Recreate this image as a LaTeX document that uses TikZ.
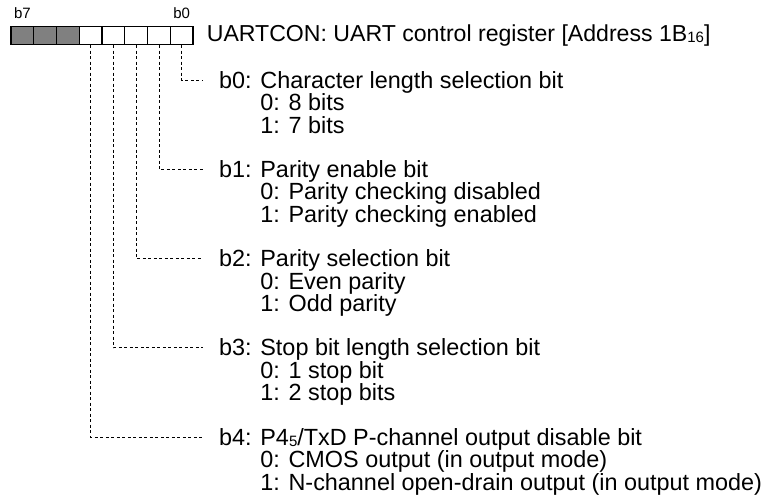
\documentclass[tikz,border=0pt]{standalone}
\usepackage{fontspec}
\setmainfont{Liberation Sans}
\usetikzlibrary{positioning}

\newcommand{\lowsub}[1]{\raisebox{-1.5pt}{\fontsize{15}{15}\selectfont #1}}

\begin{document}
\begin{tikzpicture}[x=1pt,y=-1pt,
    bitbox/.style={draw,line width=1.3pt,minimum width=22.75pt,minimum height=18pt,inner sep=0pt},
    bitlbl/.style={font=\fontsize{15}{15}\selectfont,inner sep=0pt},
    leader/.style={line width=0.6pt,dash pattern=on 3pt off 2.5pt},
    desc/.style={anchor=base west,inner sep=0pt,font=\fontsize{23.4}{24}\selectfont}]
        \useasboundingbox (0,0) rectangle (771,501);
        % register bits, b0 on the right
        \foreach \i/\f in {0/white,1/white,2/white,3/white,4/white,5/gray,6/gray,7/gray}
            \node[bitbox,fill=\f] (bit\i) at ({193-22.75*(\i+0.5)},35.5) {};
        \node[bitlbl,above=7pt of bit7] (lbl7) {b7};
        \node[bitlbl,above=7pt of bit0] (lbl0) {b0};
        \node[desc,anchor=west,right=13pt of bit0,font=\fontsize{23.1}{24}\selectfont] (title) {UARTCON: UART control register [Address 1B\lowsub{16}]};
        % leader ends
        \coordinate (tip0) at (203,80);
        \coordinate (tip1) at (203,169.25);
        \coordinate (tip2) at (203,258.5);
        \coordinate (tip3) at (203,347.75);
        \coordinate (tip4) at (203,437);
        \foreach \i in {0,...,4}
            \draw[leader] (bit\i.south) |- (tip\i);
        % b0
        \node[desc] (d0) at (219,88) {b0: Character length selection bit};
        \node[desc] (d0z) at (219,110.5) {\phantom{b0: }0: 8 bits};
        \node[desc] (d0o) at (219,133) {\phantom{b0: }1: 7 bits};
        % b1
        \node[desc] (d1) at (219,177.25) {b1: Parity enable bit};
        \node[desc] (d1z) at (219,199.75) {\phantom{b1: }0: Parity checking disabled};
        \node[desc] (d1o) at (219,222.25) {\phantom{b1: }1: Parity checking enabled};
        % b2
        \node[desc] (d2) at (219,266.5) {b2: Parity selection bit};
        \node[desc] (d2z) at (219,289) {\phantom{b2: }0: Even parity};
        \node[desc] (d2o) at (219,311.5) {\phantom{b2: }1: Odd parity};
        % b3
        \node[desc] (d3) at (219,355.75) {b3: Stop bit length selection bit};
        \node[desc] (d3z) at (219,378.25) {\phantom{b3: }0: 1 stop bit};
        \node[desc] (d3o) at (219,400.75) {\phantom{b3: }1: 2 stop bits};
        % b4
        \node[desc] (d4) at (219,445) {b4: P4\lowsub{5}/TxD P-channel output disable bit};
        \node[desc] (d4z) at (219,467.5) {\phantom{b4: }0: CMOS output (in output mode)};
        \node[desc] (d4o) at (219,490) {\phantom{b4: }1: N-channel open-drain output (in output mode)};
      \end{tikzpicture}
\end{document}
